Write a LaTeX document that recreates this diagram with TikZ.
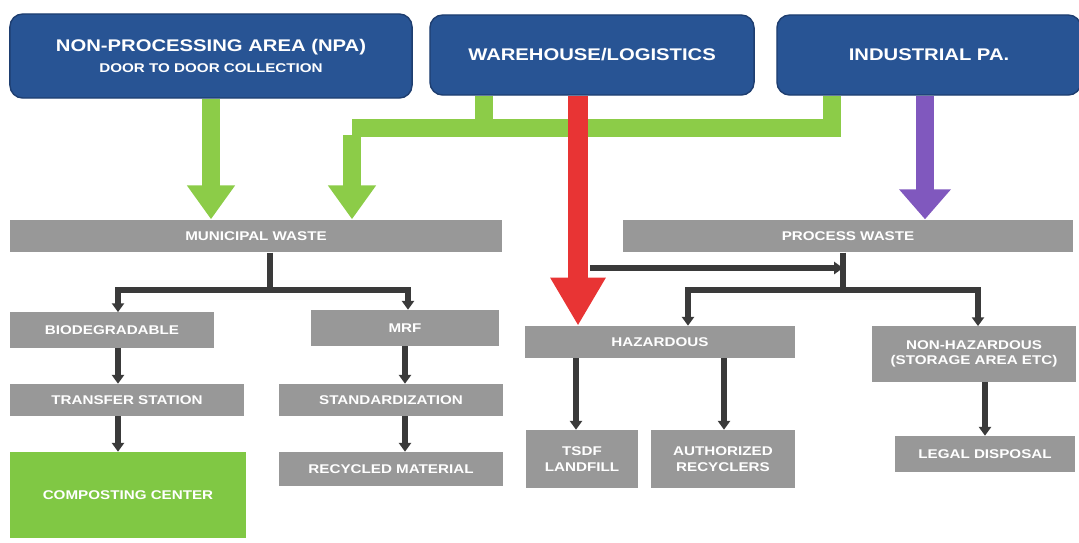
\documentclass[tikz,border=0pt]{standalone}
\usepackage{fontspec}
\setmainfont{Liberation Sans}
\newfontfamily\boxfont[FakeStretch=1.2]{Liberation Sans}
\usepackage{xcolor}
\usetikzlibrary{arrows.meta, positioning, calc}
\definecolor{areablue}{RGB}{40, 84, 148}
\definecolor{areaedge}{RGB}{30, 62, 112}
\definecolor{wastegray}{RGB}{152, 152, 152}
\definecolor{compgreen}{RGB}{128, 200, 68}
\definecolor{flowgreen}{RGB}{140, 204, 72}
\definecolor{flowred}{RGB}{232, 52, 52}
\definecolor{flowpurple}{RGB}{128, 88, 190}
\definecolor{linkdark}{RGB}{58, 58, 58}
\tikzset{
    area/.style={
        rectangle, rounded corners=9pt, draw=areaedge, line width=1pt,
        fill=areablue, text=white, font=\boxfont\large\bfseries, align=center,
        inner sep=0pt
    },
    wastebox/.style={
        rectangle, fill=wastegray, text=white, font=\boxfont\small\bfseries,
        align=center, inner sep=0pt
    },
    compbox/.style={wastebox, fill=compgreen},
    fatgreen/.style={-{Triangle[width=1.15cm,length=0.85cm]}, line width=0.45cm,
        color=flowgreen, line join=miter},
    greenline/.style={line width=0.45cm, color=flowgreen, line join=miter},
    fatred/.style={-{Triangle[width=1.3cm,length=1.2cm]}, line width=0.48cm, color=flowred},
    fatpurple/.style={-{Triangle[width=1.25cm,length=0.75cm]}, line width=0.45cm, color=flowpurple},
    link/.style={-{Triangle[width=0.3cm,length=0.22cm]}, line width=0.14cm, color=linkdark},
    bar/.style={line width=0.14cm, color=linkdark},
}

\begin{document}
\begin{tikzpicture}[x=0.025cm, y=-0.025cm]
    \useasboundingbox (0,0) rectangle (1079,542);

    \node[area, minimum width=10.05cm, minimum height=2.1cm] (npa) at (211,56)
        {NON-PROCESSING AREA (NPA)\\[1pt]{\small DOOR TO DOOR COLLECTION}};
    \node[area, minimum width=8.1cm, minimum height=2.0cm] (wh) at (592,55) {WAREHOUSE/LOGISTICS};
    \node[area, minimum width=7.6cm, minimum height=2.0cm] (ind) at (929,55) {INDUSTRIAL PA.};

    \node[wastebox, minimum width=12.3cm, minimum height=0.82cm] (muni) at (256,236) {MUNICIPAL WASTE};
    \node[wastebox, minimum width=11.25cm, minimum height=0.82cm] (proc) at (848,236) {PROCESS WASTE};

    \node[wastebox, minimum width=5.1cm, minimum height=0.88cm] (bio) at (112,330) {BIODEGRADABLE};
    \node[wastebox, minimum width=4.7cm, minimum height=0.9cm] (mrf) at (405,328) {MRF};
    \node[wastebox, minimum width=5.85cm, minimum height=0.8cm] (trans) at (127,400) {TRANSFER STATION};
    \node[wastebox, minimum width=5.6cm, minimum height=0.8cm] (stand) at (391,400) {STANDARDIZATION};
    \node[compbox, minimum width=5.9cm, minimum height=2.15cm] (compost) at (128,495) {COMPOSTING CENTER};
    \node[wastebox, minimum width=5.6cm, minimum height=0.85cm] (recyc) at (391,469) {RECYCLED MATERIAL};

    \node[wastebox, minimum width=6.75cm, minimum height=0.8cm] (haz) at (660,342) {HAZARDOUS};
    \node[wastebox, minimum width=5.1cm, minimum height=1.38cm] (nonhaz) at (974,354)
        {NON-HAZARDOUS\\(STORAGE AREA ETC)};
    \node[wastebox, minimum width=2.78cm, minimum height=1.45cm] (tsdf) at (582,459) {TSDF\\LANDFILL};
    \node[wastebox, minimum width=3.58cm, minimum height=1.45cm] (auth) at (723,459) {AUTHORIZED\\RECYCLERS};
    \node[wastebox, minimum width=4.5cm, minimum height=0.9cm] (legal) at (985,454) {LEGAL DISPOSAL};

    \coordinate (gjoin) at (352,128);
    \draw[greenline] (wh.south -| 484,0) |- (gjoin);
    \draw[greenline] (ind.south -| 832,0) |- (gjoin);
    \draw[fatgreen] ([yshift=-5pt]gjoin) -- (muni.north -| gjoin);
    \draw[fatgreen] (npa.south) -- (muni.north -| npa.south);
    \draw[fatpurple] (ind.south -| 925,0) -- (proc.north -| 925,0);

    \coordinate (mjoin) at (270,290);
    \draw[bar] (muni.south -| mjoin) -- (mjoin);
    \draw[link] (mjoin) -| (bio.north -| 118,0);
    \draw[link] (mjoin) -| (mrf.north -| 408,0);
    \draw[link] (bio.south -| 118,0) -- (trans.north -| 118,0);
    \draw[link] (trans.south -| 118,0) -- (compost.north -| 118,0);
    \draw[link] (mrf.south -| 405,0) -- (stand.north -| 405,0);
    \draw[link] (stand.south -| 405,0) -- (recyc.north -| 405,0);

    \coordinate (pjoin) at (843,290);
    \draw[bar] (proc.south -| pjoin) -- (pjoin);
    \draw[link] (pjoin) -| (haz.north -| 688,0);
    \draw[link] (pjoin) -| (nonhaz.north -| 978,0);
    \draw[link] (haz.south -| 576,0) -- (tsdf.north -| 576,0);
    \draw[link] (haz.south -| 724,0) -- (auth.north -| 724,0);
    \draw[link] (nonhaz.south -| 985,0) -- (legal.north -| 985,0);

    \draw[fatred] (wh.south -| 578,0) -- (haz.north -| 578,0);
    \coordinate (rside) at (590,268);
    \draw[link] (rside) -- (pjoin |- rside);
\end{tikzpicture}
\end{document}
